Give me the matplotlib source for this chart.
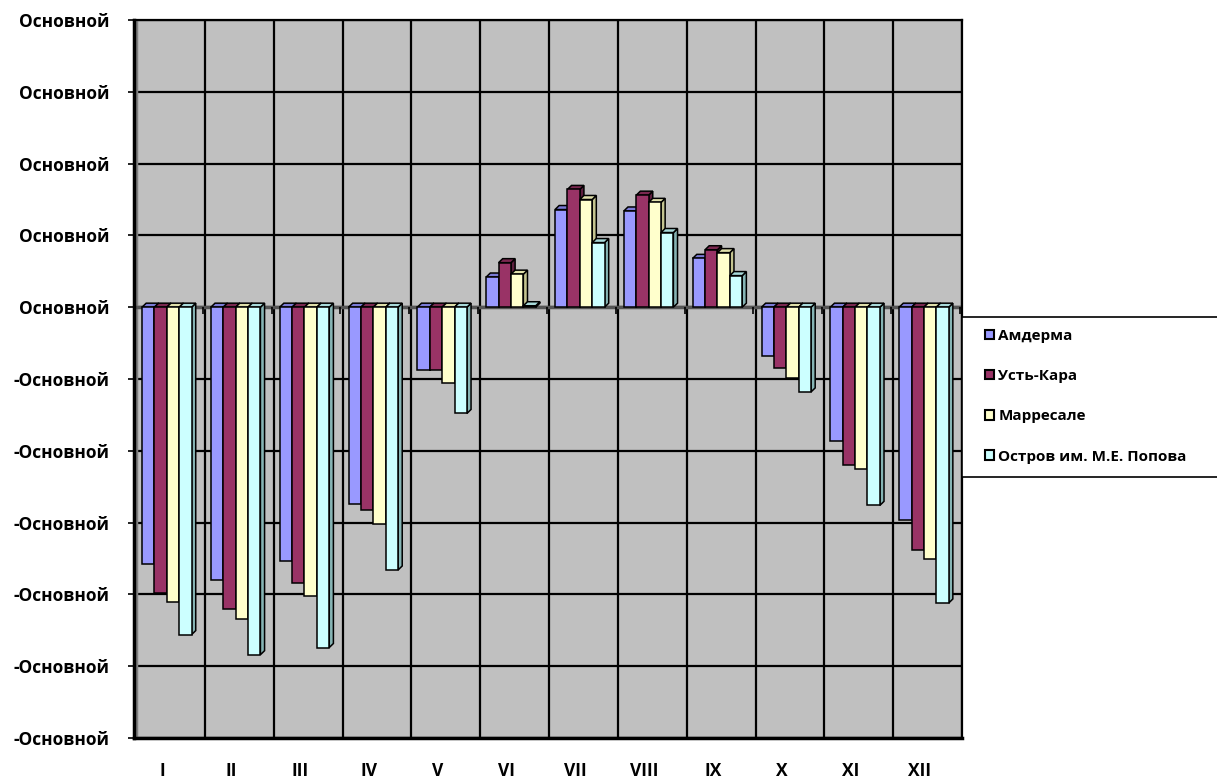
import matplotlib.pyplot as plt
import numpy as np
from matplotlib.patches import Polygon, Rectangle

plt.rcParams["font.family"] = ["Open Sans", "DejaVu Sans"]
plt.rcParams["font.weight"] = "bold"

months = ["I", "II", "III", "IV", "V", "VI", "VII", "VIII", "IX", "X", "XI", "XII"]
stations = ["Амдерма", "Усть-Кара", "Марресале", "Остров им. М.Е. Попова"]

amderma = [-17.9, -19.0, -17.7, -13.7, -4.4, 2.1, 6.8, 6.7, 3.4, -3.4, -9.3, -14.8]
ust_kara = [-19.9, -21.0, -19.2, -14.1, -4.4, 3.1, 8.2, 7.8, 4.0, -4.2, -11.0, -16.9]
marresale = [-20.5, -21.7, -20.1, -15.1, -5.3, 2.3, 7.5, 7.3, 3.8, -4.9, -11.3, -17.5]
popova = [-22.8, -24.2, -23.7, -18.3, -7.4, 0.1, 4.5, 5.2, 2.2, -5.9, -13.8, -20.6]

front = ["#9999FF", "#993366", "#FFFFCC", "#CCFFFF"]
side = ["#6666B8", "#5E1F3F", "#C4C490", "#86B4B4"]
top = ["#7A7AD6", "#7A2850", "#E0E0AA", "#A8DADA"]

yticks = np.arange(-30, 21, 5)
ylabels = ["-Основной" if t < 0 else "Основной" for t in yticks]

fig = plt.figure(figsize=(12.17, 7.78), dpi=100)
ax = fig.add_axes([134 / 1217, 40 / 778, 828 / 1217, 718 / 778])
ax.set_facecolor("#C0C0C0")

bw = 0.18
off = 0.087
dx = 0.06
dy = 0.28

z = 3
for k, vals in enumerate([amderma, ust_kara, marresale, popova]):
    for i, v in enumerate(vals):
        x0 = i + off + k * bw
        x1 = x0 + bw
        hi = max(v, 0)
        # side face
        ax.add_patch(Polygon([(x1, 0), (x1 + dx, dy), (x1 + dx, v + dy), (x1, v)],
                             closed=True, fc=side[k], ec="black", lw=1.1, zorder=z + i * 10 + k))
        # top face
        ax.add_patch(Polygon([(x0, hi), (x0 + dx, hi + dy), (x1 + dx, hi + dy), (x1, hi)],
                             closed=True, fc=top[k], ec="black", lw=1.1, zorder=z + i * 10 + k))
        ax.add_patch(Rectangle((x0, 0), bw, v, fc=front[k], ec="black", lw=1.1,
                               zorder=z + i * 10 + k + 0.5))

# grid on the back wall
for t in yticks:
    ax.axhline(t, color="black", lw=1.6, zorder=1)
for i in range(13):
    ax.axvline(i, color="black", lw=1.6, zorder=1)
ax.axhline(0, color="#555555", lw=2.5, zorder=2)
ax.vlines(np.arange(1, 13) - 0.03, -0.45, 0, color="black", lw=1.2, zorder=2)
ax.axvline(0, color="#808080", lw=2.5, zorder=1.5)

ax.set_xlim(-0.03, 12)
ax.set_ylim(-30, 20)
ax.set_yticks(yticks)
ax.set_yticklabels(ylabels, fontsize=12.5, fontweight="bold")
ax.set_xticks(np.arange(12) + 0.38)
ax.set_xticklabels(months, fontsize=12.5, fontweight="bold")
ax.tick_params(axis="x", length=0, pad=17)
ax.tick_params(axis="y", length=4, width=1.2, pad=14)
for s in ax.spines.values():
    s.set_color("black")
    s.set_linewidth(1.6)
ax.spines["left"].set_linewidth(2.5)
ax.spines["bottom"].set_linewidth(2.5)

# legend box
fig.patches.append(Rectangle((962 / 1217, 301 / 778), 0.3, 160 / 778, transform=fig.transFigure,
                             fc="white", ec="black", lw=1.2, zorder=5))
handles = [Rectangle((0, 0), 1, 1, fc=c, ec="black", lw=1.5) for c in front]
leg = fig.legend(handles, stations, loc="upper left", bbox_to_anchor=(971 / 1217, 463 / 778),
                 frameon=False, fontsize=11, handlelength=0.6, handleheight=0.6,
                 handletextpad=0.3, labelspacing=1.72)
leg.set_zorder(6)
for txt in leg.get_texts():
    txt.set_fontweight("bold")

fig.savefig("out.png", dpi=100)
